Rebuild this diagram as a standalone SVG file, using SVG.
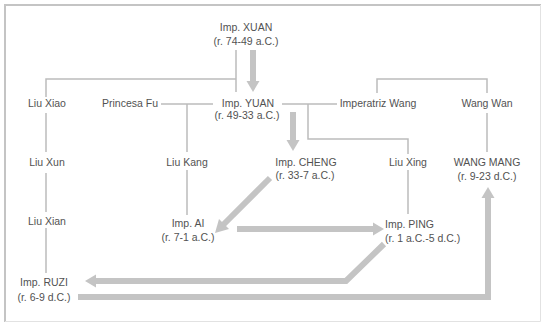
<svg xmlns="http://www.w3.org/2000/svg" width="542" height="323" viewBox="0 0 542 323">
<style>
  text { font-family: "Liberation Sans", Arial, sans-serif; font-size: 10.5px; fill: #525252; text-anchor: middle; }
  .l { text-anchor: start; }
  .thin { fill: none; stroke: #bcbcbc; stroke-width: 1.5; }
  .thick { fill: none; stroke: #c4c4c4; stroke-width: 6; stroke-linejoin: miter; }
  .head { fill: #c4c4c4; }
</style>
<rect x="0" y="0" width="542" height="323" fill="#ffffff"/>
<path d="M5,322 V5 H541" fill="none" stroke="#c4c4c4" stroke-width="2"/>
<path d="M540.5,5 V321.5 H5" fill="none" stroke="#e2e2e2" stroke-width="1"/>
<g id="connectors">
  <path class="thin" d="M236,50 V92 M236,79 H46 V97"/>
  <path class="thin" d="M46,113 V152 M46,173 V212 M46,228 V273"/>
  <path class="thin" d="M161,104 H213 M187,104 V152 M187,170 V215"/>
  <path class="thin" d="M282,104 H337 M308,104 V139 H408 V154 M408,170 V214"/>
  <path class="thin" d="M377,93 V79 H487 V93 M487,113 V152"/>
  <path class="thick" d="M253,50 V82"/>
  <polygon class="head" points="246.5,81 259.5,81 253,92"/>
  <path class="thick" d="M293,112 V141"/>
  <polygon class="head" points="286.5,140 299.5,140 293,151"/>
  <path class="thick" d="M270,178 L222,226"/>
  <polygon class="head" points="215,233 219,219 229,229"/>
  <path class="thick" d="M237,229 H374"/>
  <polygon class="head" points="373,222.5 373,235.5 384,229"/>
  <path class="thick" d="M384,244 L346,281 H95"/>
  <polygon class="head" points="96,274.5 96,287.5 85,281"/>
  <path class="thick" d="M78,297 H488 V197"/>
  <polygon class="head" points="481.5,198 494.5,198 488,187"/>
</g>
<g id="xuan"><text x="246" y="30.5">Imp. XUAN</text><text x="246" y="44.5">(r. 74-49 a.C.)</text></g>
<g id="liu-xiao"><text x="47" y="106.5">Liu Xiao</text></g>
<g id="princesa-fu"><text x="130" y="106.5">Princesa Fu</text></g>
<g id="yuan"><text x="248" y="106.5">Imp. YUAN</text><text x="247" y="119">(r. 49-33 a.C.)</text></g>
<g id="imperatriz-wang"><text x="378" y="106.5">Imperatriz Wang</text></g>
<g id="wang-wan"><text x="487" y="106.5">Wang Wan</text></g>
<g id="liu-xun"><text x="47" y="165.5">Liu Xun</text></g>
<g id="liu-kang"><text x="187" y="165.5">Liu Kang</text></g>
<g id="cheng"><text x="306" y="165.5">Imp. CHENG</text><text x="305" y="179">(r. 33-7 a.C.)</text></g>
<g id="liu-xing"><text x="408" y="165.5">Liu Xing</text></g>
<g id="wang-mang"><text x="487" y="165.5">WANG MANG</text><text x="487" y="180">(r. 9-23 d.C.)</text></g>
<g id="liu-xian"><text x="47" y="224.5">Liu Xian</text></g>
<g id="ai"><text x="188" y="226.5">Imp. AI</text><text x="188" y="241">(r. 7-1 a.C.)</text></g>
<g id="ping"><text class="l" x="385" y="227.5">Imp. PING</text><text class="l" x="385" y="242">(r. 1 a.C.-5 d.C.)</text></g>
<g id="ruzi"><text x="44" y="286">Imp. RUZI</text><text x="44" y="300.5">(r. 6-9 d.C.)</text></g>
</svg>
